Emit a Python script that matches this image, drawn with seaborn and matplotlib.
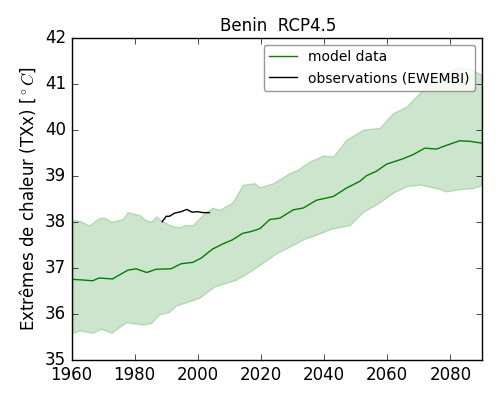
# ----------------------------------------------------------------------------
# Benin heat extremes, RCP4.5
# ----------------------------------------------------------------------------
import matplotlib
matplotlib.use('Agg')
import matplotlib.pyplot as plt
import numpy as np
import seaborn as sns

# values
mean_years = [1960.5, 1963, 1966.7, 1968.7, 1973, 1977.8, 1980.5, 1983.8, 1986.8, 1991.5, 1994.7,
              1998.4, 2001, 2004.7, 2007.9, 2011, 2014.2, 2016.9, 2019.65, 2022.8, 2026, 2030.2,
              2033.4, 2037.6, 2042.9, 2047, 2051.3, 2053.4, 2056.6, 2059.7, 2065, 2068.2, 2071.9,
              2075.6, 2078.7, 2082.9, 2086, 2089.8]
mean_vals = [36.75, 36.74, 36.72, 36.78, 36.76, 36.95, 36.98, 36.90, 36.97, 36.98, 37.09,
             37.12, 37.21, 37.41, 37.52, 37.61, 37.75, 37.79, 37.85, 38.05, 38.08, 38.26,
             38.30, 38.47, 38.55, 38.73, 38.88, 39.00, 39.10, 39.25, 39.37, 39.46, 39.60,
             39.58, 39.66, 39.76, 39.75, 39.71]

upper_years = [1960.5, 1962.6, 1965.7, 1967.8, 1968.9, 1970.4, 1972.6, 1976.2, 1977.8, 1980, 1981.5,
               1983.4, 1985.2, 1986.8, 1988.2, 1991, 1992.5, 1994.2, 1995.9, 1998.4, 2001.6, 2004.7,
               2006.8, 2011, 2014.2, 2017.9, 2019.65, 2023.9, 2029.1, 2031.3, 2035.5, 2039.7, 2042.9,
               2047, 2052.3, 2057.6, 2061.8, 2066, 2070.3, 2075.6, 2082.9, 2086, 2089.8]
upper_vals = [38.04, 38.02, 37.92, 38.04, 38.08, 38.09, 38.00, 38.06, 38.21, 38.17, 38.15,
              38.04, 38.00, 38.12, 38.04, 37.93, 37.90, 37.88, 37.93, 37.93, 38.15, 38.31,
              38.26, 38.42, 38.80, 38.84, 38.75, 38.84, 39.06, 39.12, 39.31, 39.44, 39.42,
              39.78, 40.00, 40.04, 40.36, 40.50, 40.80, 41.19, 41.35, 41.32, 41.20]

lower_years = [1960.5, 1962.6, 1966.7, 1969.4, 1972.6, 1977.3, 1982.6, 1985.2, 1987.7, 1990.8, 1993.1,
               2000.5, 2005.3, 2012, 2015.3, 2019.7, 2024.9, 2030.2, 2033.4, 2037.6, 2041.8, 2048.1,
               2052.4, 2057.1, 2061.8, 2066, 2070.3, 2075.6, 2078.7, 2082.9, 2087, 2089.8]
lower_vals = [35.59, 35.64, 35.59, 35.68, 35.59, 35.82, 35.77, 35.80, 35.99, 36.04, 36.18,
              36.35, 36.60, 36.74, 36.87, 37.07, 37.32, 37.50, 37.62, 37.72, 37.84, 37.93,
              38.22, 38.40, 38.63, 38.77, 38.81, 38.73, 38.66, 38.71, 38.73, 38.79]

obs_years = [1988.7, 1990, 1991, 1992.7, 1994.7, 1996.5, 1998.2, 2000, 2001.6, 2003.7]
obs_vals = [38.00, 38.12, 38.12, 38.19, 38.22, 38.27, 38.21, 38.22, 38.20, 38.20]

x_ticks = [1960, 1980, 2000, 2020, 2040, 2060, 2080]
y_ticks = [35, 36, 37, 38, 39, 40, 41, 42]

# set plotting style
sns.set_style('ticks')
plt.style.use('classic')
plt.rcParams['font.family'] = ['DejaVu Sans']
plt.rcParams['mathtext.fontset'] = 'cm'

fig, ax = plt.subplots(figsize=(5, 4), dpi=100, facecolor='white')
fig.subplots_adjust(left=0.143, right=0.964, top=0.906, bottom=0.1)

# shared grid for the model envelope, only the read points are joined up
band_years = sorted(set(upper_years) | set(lower_years))
ax.fill_between(band_years, np.interp(band_years, lower_years, lower_vals),
                np.interp(band_years, upper_years, upper_vals),
                color='green', alpha=0.2, linewidth=1)

sns.lineplot(x=mean_years, y=mean_vals, color='green', linewidth=1, label='model data', ax=ax)
sns.lineplot(x=obs_years, y=obs_vals, color='black', linewidth=1, label='observations (EWEMBI)', ax=ax)

# formatting
ax.set_xlim(1960, 2090)
ax.set_ylim(35, 42)
ax.set_xticks(x_ticks)
ax.set_yticks(y_ticks)
ax.tick_params(axis='both', labelsize=12)
ax.set_title('Benin  RCP4.5', fontsize=12, x=0.503, y=1.0)
ax.set_ylabel(r'Extrêmes de chaleur (TXx) [$^\circ C$]', fontsize=12)
ax.set_xlabel('')
ax.legend(loc='upper right', fontsize=10, framealpha=0.8, fancybox=True, numpoints=1, edgecolor='gray')

plt.savefig('out.png', dpi=100, facecolor='white')
